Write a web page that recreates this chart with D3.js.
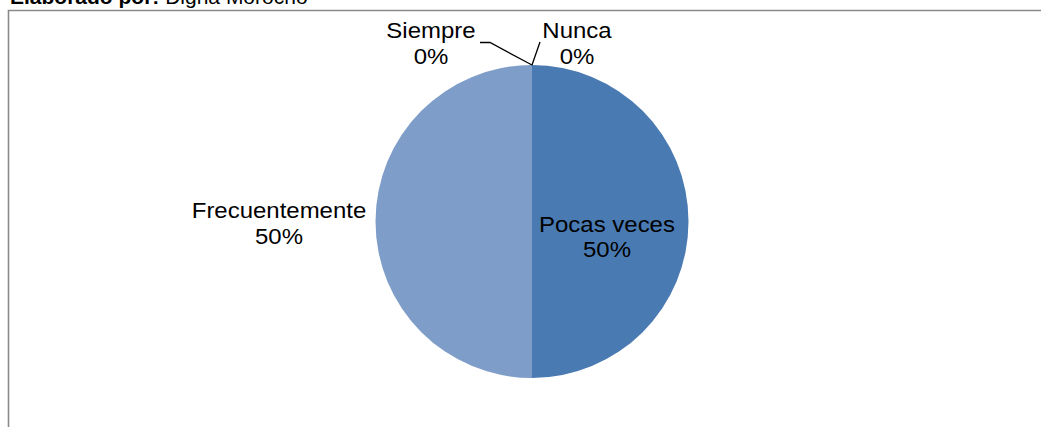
<!DOCTYPE html>
<html>
<head>
<meta charset="utf-8">
<script src="https://cdn.jsdelivr.net/npm/d3@7"></script>
<style>
  html, body { margin: 0; padding: 0; background: #fff; }
  svg { display: block; font-family: Arial, "Liberation Sans", sans-serif; }
</style>
</head>
<body>
<svg id="chart" width="1041" height="427"></svg>
<script>
// Data (pie order clockwise from 12 o'clock)
const categories = ["Nunca", "Pocas veces", "Frecuentemente", "Siempre"];
const values = [0, 50, 50, 0];
const percentLabels = ["0%", "50%", "50%", "0%"];
const colors = ["#4F81BD", "#4A7AB2", "#7F9DC9", "#7F9DC9"];

(function () {
const svg = d3.select("#chart");
const W = 1041, H = 427;

// header text (cut off at top as in reference)
const header = svg.append("text").attr("x", 10).attr("y", 4).attr("font-size", 21).attr("fill", "#000");
header.append("tspan").attr("font-weight", "bold").text("Elaborado por:");
header.append("tspan").text(" Digna Morocho");

// frame
svg.append("path")
  .attr("d", `M8.5,${H} L8.5,10.5 L${W},10.5`)
  .attr("fill", "none").attr("stroke", "#8a8a8a").attr("stroke-width", 1.6);

const cx = 532, cy = 221.5, r = 156.5;
const g = svg.append("g").attr("transform", `translate(${cx},${cy})`);

const pie = d3.pie().sort(null).value(d => d.v);
const data = categories.map((c, i) => ({ c, v: values[i], p: percentLabels[i], col: colors[i] }));
const arcs = pie(data);
const arc = d3.arc().innerRadius(0).outerRadius(r);

g.selectAll("path.slice").data(arcs).enter().append("path")
  .attr("class", "slice")
  .attr("d", arc)
  .attr("fill", d => d.data.col);

// label layout (relative to pie centre)
const labelPos = {
  "Nunca": [45, -183.5],
  "Pocas veces": [75, 10],
  "Frecuentemente": [-253, -3.5],
  "Siempre": [-101, -183.5]
};
const fs = 22;
const lineH = 26;
arcs.forEach(d => {
  const [lx, ly] = labelPos[d.data.c];
  const t = g.append("text").attr("text-anchor", "middle").attr("font-size", fs).attr("fill", "#000")
    .attr("transform", `translate(${lx},${ly}) scale(1.09,1)`);
  t.append("tspan").attr("x", 0).attr("y", 0).text(d.data.c);
  t.append("tspan").attr("x", 0).attr("y", lineH).text(d.data.p);
});

// leader lines for zero slices
const pieTop = [0, -r];
const line = d3.line();
g.append("path").attr("d", line([[-52, -179], [-42, -179], pieTop]))
  .attr("fill", "none").attr("stroke", "#000").attr("stroke-width", 1.3);
g.append("path").attr("d", line([[8, -179.5], pieTop]))
  .attr("fill", "none").attr("stroke", "#000").attr("stroke-width", 1.3);
})();
</script>
</body>
</html>
